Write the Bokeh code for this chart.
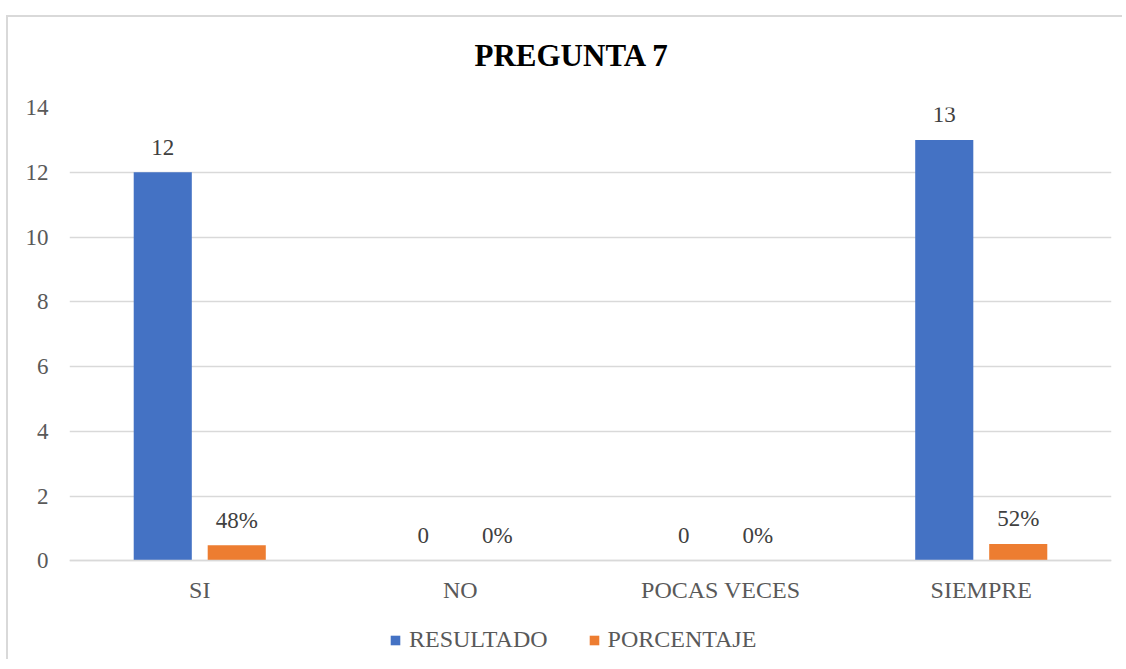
from bokeh.plotting import figure
from bokeh.models import ColumnDataSource, Legend, LegendItem, FixedTicker
from bokeh.transform import dodge
from bokeh.core.properties import value
from bokeh.embed import file_html
from bokeh.resources import INLINE

categories = ["SI", "NO", "POCAS VECES", "SIEMPRE"]
resultado = [12, 0, 0, 13]
porcentaje = [0.48, 0.0, 0.0, 0.52]
series_names = ["RESULTADO", "PORCENTAJE"]
y_ticks = [0, 2, 4, 6, 8, 10, 12, 14]

BLUE = "#4472C4"
ORANGE = "#ED7D31"
FONT = "Liberation Serif"

src = ColumnDataSource(dict(
    cat=categories,
    res=resultado,
    pct=porcentaje,
    res_lbl=[str(v) for v in resultado],
    pct_lbl=[f"{round(v * 100)}%" for v in porcentaje],
))

# frame extends below zero to host the category labels and the legend
p = figure(
    x_range=categories, y_range=(-3.11, 14),
    width=1116, height=644,
    output_backend="svg", toolbar_location=None,
    min_border_left=61, min_border_right=13, min_border_top=89, min_border_bottom=0,
)
p.styles = {"border-top": "2px solid #d9d9d9", "border-left": "2px solid #d9d9d9",
            "position": "relative", "top": "15px", "left": "6px"}
p.outline_line_color = None
p.background_fill_color = "white"
p.border_fill_color = "white"

p.title.text = "PREGUNTA 7"
p.title.align = "left"
p.title.text_font = FONT
p.title.text_font_style = "bold"
p.title.text_font_size = "31px"
p.title.text_color = "#000000"
p.title.standoff = 36
p.title.padding = dict(left=0, right=0, top=0, bottom=17)
p.title.offset = 405

off = 0.142
w = 0.223
r1 = p.vbar(x=dodge("cat", -off, range=p.x_range), top="res", width=w, source=src,
            fill_color=BLUE, line_color=None)
r2 = p.vbar(x=dodge("cat", off, range=p.x_range), top="pct", width=w, source=src,
            fill_color=ORANGE, line_color=None)

p.text(x=dodge("cat", -off, range=p.x_range), y="res", text="res_lbl", source=src,
       text_font=value(FONT), text_font_size="23px", text_color="#404040",
       text_align="center", text_baseline="alphabetic", y_offset=-25)
p.text(x=dodge("cat", off, range=p.x_range), y="pct", text="pct_lbl", source=src,
       text_font=value(FONT), text_font_size="23px", text_color="#404040",
       text_align="center", text_baseline="alphabetic", y_offset=-25)

p.yaxis.ticker = FixedTicker(ticks=y_ticks)
p.ygrid.ticker = FixedTicker(ticks=y_ticks)
p.ygrid.grid_line_color = "#d9d9d9"
p.ygrid.grid_line_width = 1.5
p.xgrid.grid_line_color = None

for ax in (p.xaxis[0], p.yaxis[0]):
    ax.major_tick_line_color = None
    ax.minor_tick_line_color = None
    ax.major_label_text_font = FONT
    ax.major_label_text_color = "#595959"
p.yaxis.major_label_text_font_size = "23px"
p.xaxis.major_label_text_font_size = "24px"
p.yaxis.axis_line_color = None
p.yaxis.major_label_standoff = 15
p.xaxis.fixed_location = 0
p.xaxis.axis_line_color = "#d9d9d9"
p.xaxis.axis_line_width = 1.5
p.xaxis.major_label_standoff = 10

legend = Legend(
    items=[LegendItem(label=series_names[0], renderers=[r1]),
           LegendItem(label=series_names[1], renderers=[r2])],
    orientation="horizontal", location=(320, 8),
    label_text_font=FONT, label_text_font_size="24px", label_text_color="#595959",
    glyph_width=12, glyph_height=12, label_height=26, label_standoff=8, spacing=40,
    padding=0, margin=0, border_line_color=None, background_fill_alpha=0,
)
p.add_layout(legend, "center")

open("out.html", "w").write(file_html(p, INLINE))
